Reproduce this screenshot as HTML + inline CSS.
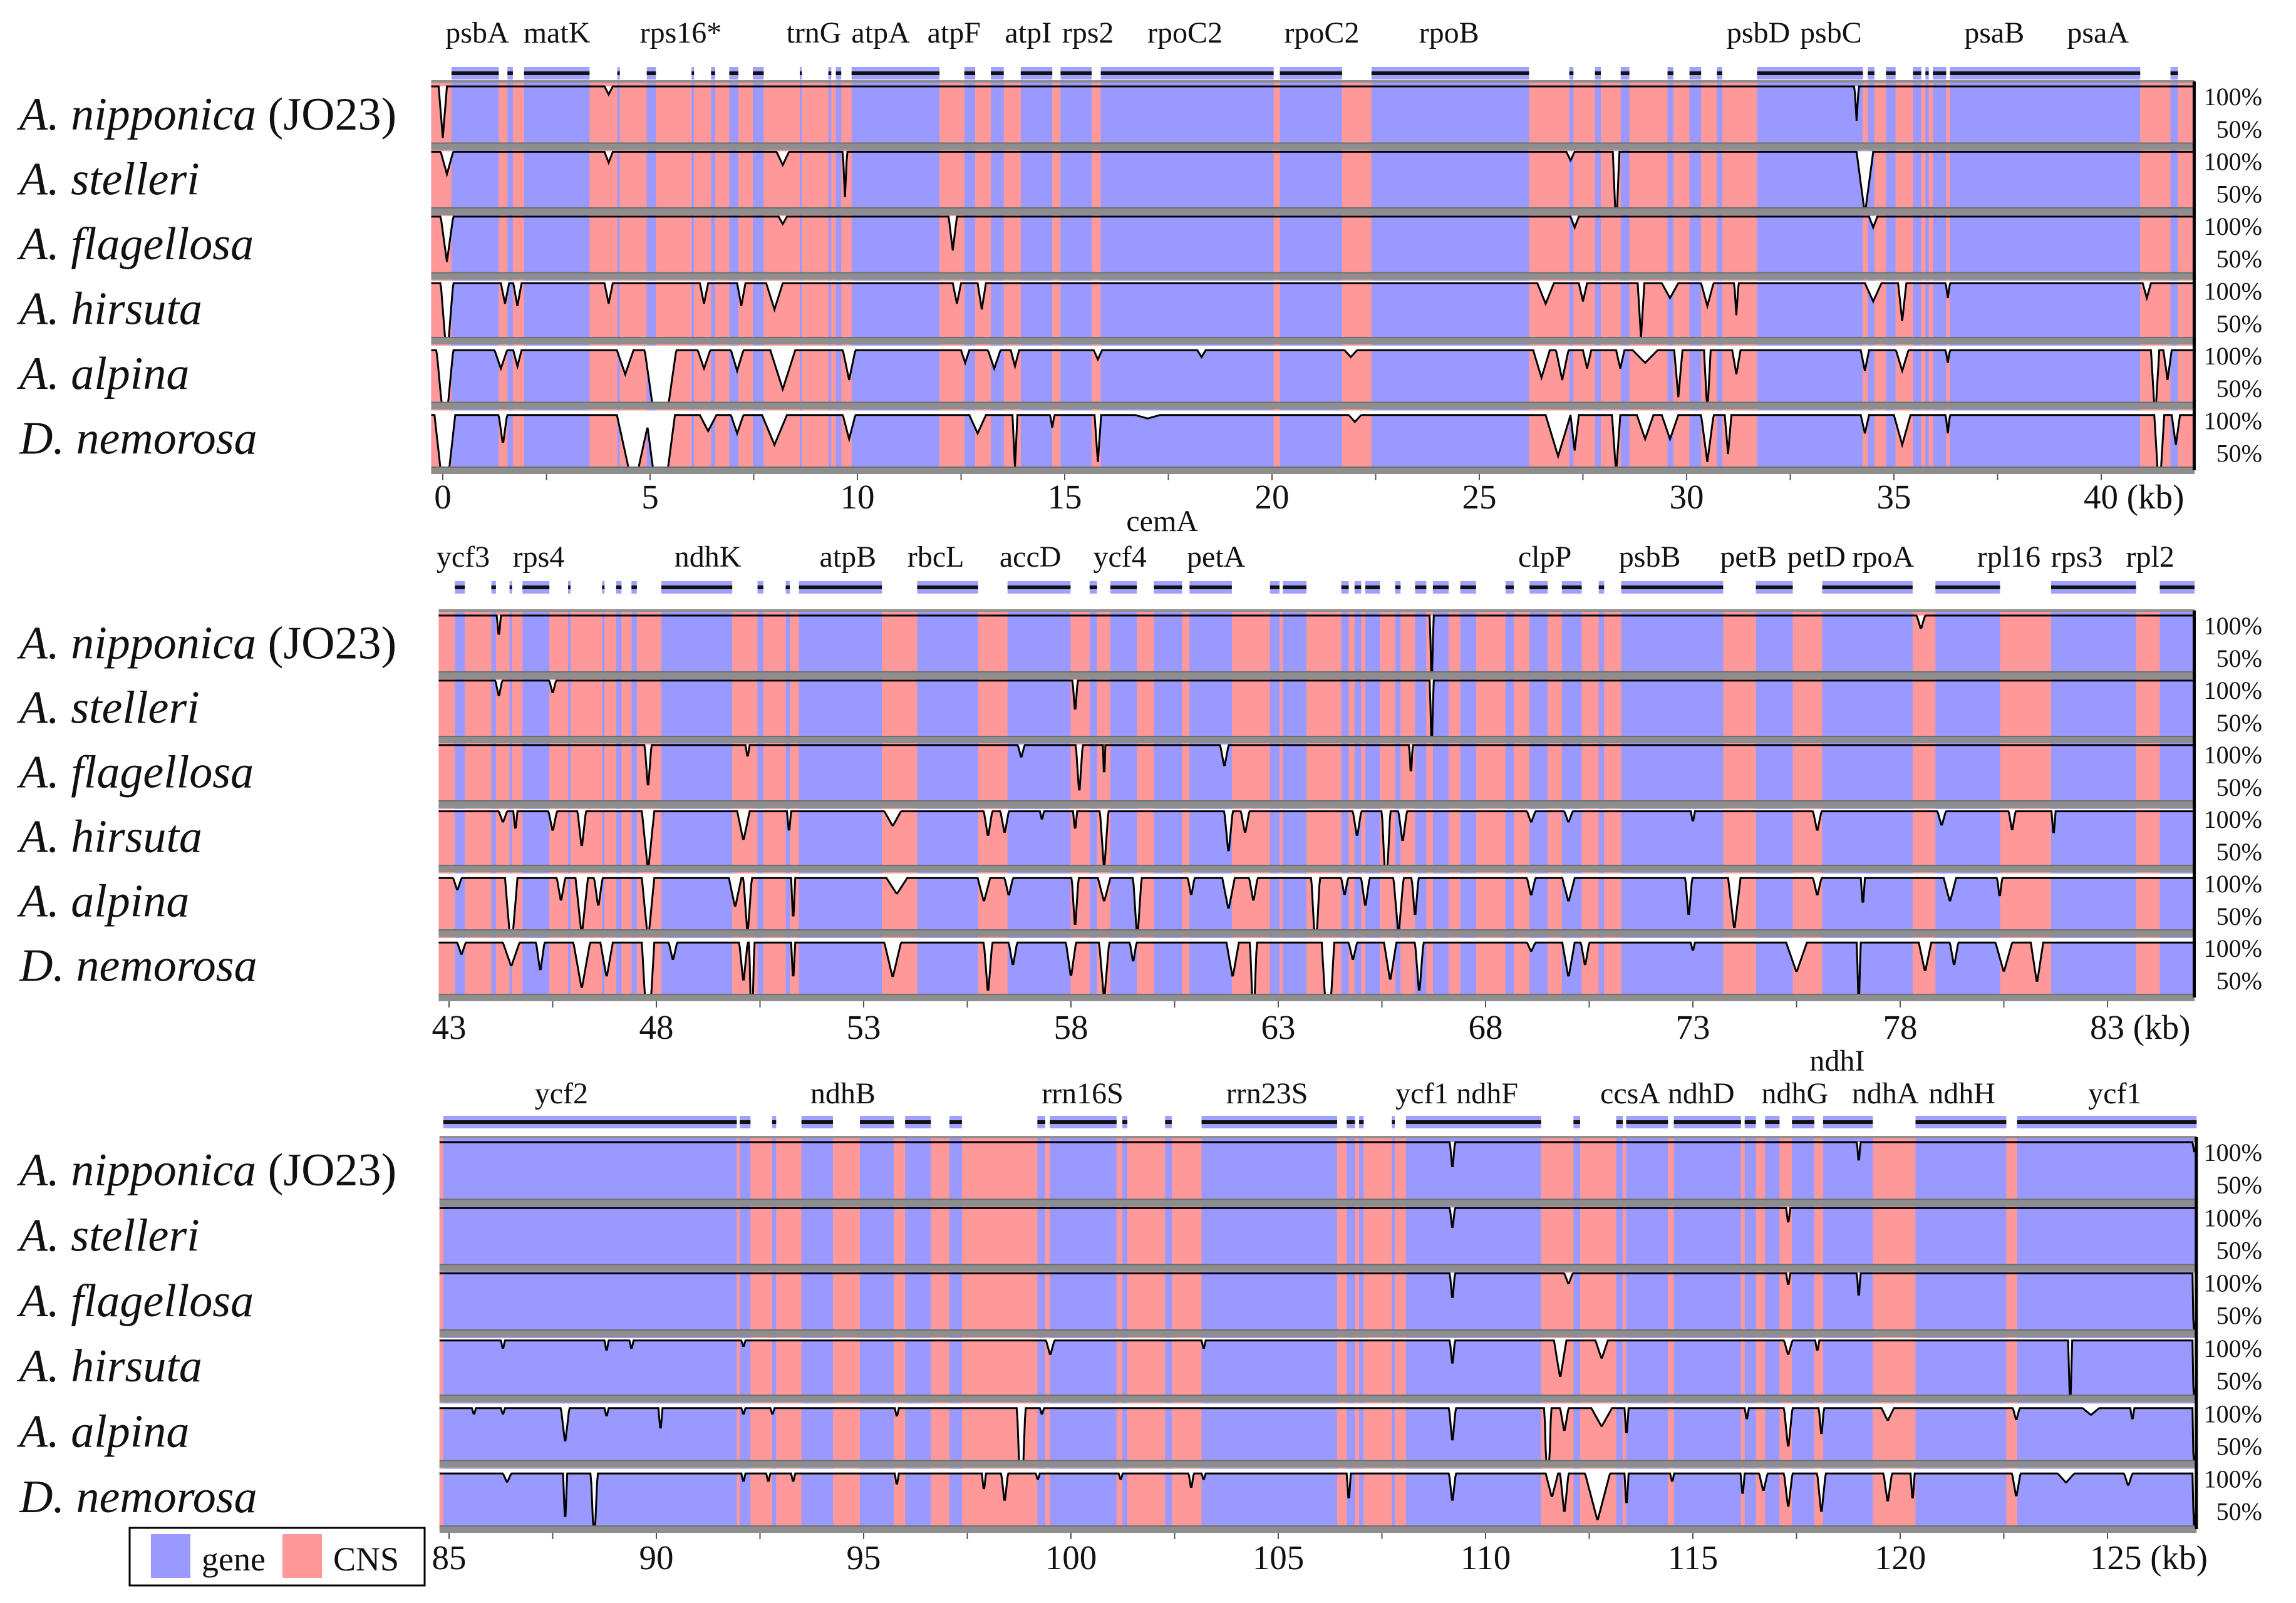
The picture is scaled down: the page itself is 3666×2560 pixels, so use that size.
<!DOCTYPE html>
<html><head><meta charset="utf-8">
<style>
html,body{margin:0;padding:0;background:#fff;}
svg{display:block;}
text{font-family:"Liberation Serif",serif;fill:#111;}
</style></head>
<body>
<svg id="chart" xmlns="http://www.w3.org/2000/svg" width="3666" height="2560" viewBox="0 0 3666 2560">
<g id="legend">
<rect x="207" y="2440" width="471" height="92" fill="#fff" stroke="#000" stroke-width="3"/>
<rect x="241" y="2450" width="63" height="70" fill="#9999ff"/>
<text x="322" y="2508" font-size="54">gene</text>
<rect x="451" y="2450" width="63" height="70" fill="#ff9999"/>
<text x="532" y="2508" font-size="54">CNS</text>
</g>
</svg>
<script>
// ---------- data ----------
const species = ["A. nipponica", "A. stelleri", "A. flagellosa", "A. hirsuta", "A. alpina", "D. nemorosa"];
const baselines = [100, 99.5, 99.5, 98, 96, 96];

const p1Range = [-0.28, 42.25];
const p2Range = [42.75, 85.1];
const p3Range = [84.77, 127.15];

const p1Ticks = [0,5,10,15,20,25,30,35,40];
const p2Ticks = [43,48,53,58,63,68,73,78,83];
const p3Ticks = [85,90,95,100,105,110,115,120,125];

const p1CNS = [[-0.28,0.21],[1.35,1.56],[1.69,1.96],[3.54,4.21],[4.27,4.92],[5.14,6.0],[6.06,6.47],[6.57,6.91],[7.13,7.48],[7.74,8.61],[8.66,9.3],[9.37,9.48],[9.61,9.86],[11.98,12.58],[12.84,13.22],[13.53,13.94],[14.7,14.9],[15.65,15.87],[20.04,20.19],[21.69,22.4],[26.2,27.17],[27.27,27.79],[27.93,28.41],[28.62,29.54],[29.68,30.07],[30.35,30.73],[30.86,31.7],[34.25,34.37],[34.53,34.81],[35.04,35.46],[35.66,35.76],[35.84,35.94],[36.26,36.35],[40.94,41.67],[41.85,42.25]];
const p2CNS = [[42.75,43.14],[43.38,44.02],[44.13,44.46],[44.52,44.77],[45.42,45.87],[45.93,46.69],[46.75,47.03],[47.16,47.4],[47.53,48.12],[49.83,50.44],[50.58,51.12],[51.22,51.44],[53.44,54.29],[55.76,56.47],[57.99,58.45],[58.63,58.95],[59.59,60.0],[60.68,60.86],[61.88,62.8],[63.03,63.11],[63.68,64.52],[64.7,64.84],[65.0,65.1],[65.45,65.82],[65.95,66.3],[66.57,66.73],[67.11,67.39],[67.77,68.48],[68.68,69.06],[69.5,69.84],[70.32,70.73],[70.86,71.27],[73.73,74.52],[75.41,76.12],[78.3,78.85],[80.41,81.64],[83.69,84.26]];
const p3CNS = [[84.77,84.86],[91.94,92.01],[92.27,92.79],[92.89,93.5],[94.26,94.91],[95.73,96.0],[96.62,97.07],[97.37,99.19],[99.38,99.49],[101.1,101.24],[101.36,102.27],[102.43,103.15],[106.42,106.65],[106.85,106.95],[107.06,107.74],[107.81,108.08],[111.34,112.12],[112.28,113.15],[113.31,113.39],[114.4,114.54],[116.16,116.25],[116.52,116.74],[117.09,117.39],[117.93,118.14],[119.34,120.37],[122.56,122.82]];

const p1Genes = [["psbA",0.83],["matK",2.75],["rps16*",5.74],["trnG",8.95],["atpA",10.56],["atpF",12.33],["atpI",14.12],["rps2",15.56],["rpoC2",17.9],["rpoC2",21.2],["rpoB",24.27],["psbD",31.73],["psbC",33.48],["psaB",37.42],["psaA",39.92]];
const p2Genes = [["ycf3",43.34],["rps4",45.16],["ndhK",49.24],["atpB",52.62],["rbcL",54.74],["accD",57.02],["ycf4",59.18],["petA",61.5],["clpP",69.43],["psbB",71.96],["petB",74.34],["petD",75.98],["rpoA",77.59],["rpl16",80.62],["rps3",82.26],["rpl2",84.03]];
const p2Raised = [["cemA",60.2]];
const p3Genes = [["ycf2",87.71],["ndhB",94.5],["rrn16S",100.28],["rrn23S",104.73],["ycf1",108.47],["ndhF",110.04],["ccsA",113.49],["ndhD",115.2],["ndhG",117.46],["ndhA",119.64],["ndhH",121.49],["ycf1",125.18]];
const p3Raised = [["ndhI",118.48]];

// dips: [kb, value %, half-width kb]
const p1Dips = [
 [[0.0,55,0.1],[4.0,93,0.1],[34.1,70,0.05]],
 [[0.1,80,0.15],[4.0,90,0.1],[8.2,88,0.15],[9.7,60,0.05],[27.2,92,0.1],[28.3,30,0.08],[34.3,45,0.2]],
 [[0.1,60,0.15],[8.2,93,0.1],[12.3,70,0.1],[27.3,90,0.1],[34.5,90,0.1]],
 [[0.1,30,0.15],[1.5,80,0.1],[1.8,78,0.1],[4.0,80,0.1],[6.3,80,0.1],[7.2,78,0.1],[8.0,75,0.2],[12.4,80,0.1],[13.0,75,0.1],[26.6,80,0.2],[27.5,82,0.1],[28.9,50,0.08],[29.6,85,0.2],[30.5,78,0.15],[31.2,70,0.05],[34.5,82,0.2],[35.2,65,0.1],[36.3,85,0.05],[41.1,85,0.1]],
 [[0.05,20,0.2],[1.4,80,0.15],[1.8,82,0.1],[4.4,75,0.2],[5.25,0,0.38],[6.3,80,0.15],[7.1,78,0.15],[8.2,62,0.3],[9.8,70,0.15],[12.6,85,0.1],[13.3,80,0.15],[13.8,82,0.1],[15.8,88,0.1],[18.3,90,0.1],[21.9,90,0.15],[26.5,72,0.2],[27.0,70,0.15],[27.6,80,0.1],[28.4,80,0.1],[29.0,85,0.3],[29.8,55,0.1],[30.5,40,0.08],[31.2,75,0.1],[34.3,78,0.1],[35.2,78,0.15],[36.3,85,0.05],[41.3,35,0.1],[41.6,70,0.1]],
 [[0.05,15,0.25],[1.45,70,0.1],[4.6,30,0.4],[5.25,0,0.35],[6.4,82,0.2],[7.1,80,0.15],[8.0,70,0.3],[9.8,75,0.15],[12.9,80,0.2],[13.8,50,0.06],[14.7,85,0.05],[15.8,55,0.08],[17.0,93,0.3],[22.0,90,0.15],[26.9,60,0.3],[27.3,65,0.1],[28.3,45,0.1],[29.0,75,0.2],[29.6,75,0.2],[30.5,55,0.15],[31.0,62,0.08],[34.3,80,0.1],[35.2,70,0.2],[36.3,80,0.05],[41.4,25,0.12],[41.8,70,0.1]]
];
const p2Dips = [
 [[44.2,80,0.05],[66.7,10,0.04],[78.5,88,0.1]],
 [[44.2,85,0.08],[45.5,88,0.08],[58.1,70,0.06],[66.7,10,0.04]],
 [[47.8,60,0.08],[50.2,88,0.05],[56.8,88,0.08],[58.2,55,0.08],[58.8,65,0.03],[61.7,80,0.1],[66.2,70,0.04]],
 [[44.3,88,0.1],[44.6,80,0.05],[45.5,80,0.1],[46.2,65,0.1],[47.8,45,0.15],[50.1,72,0.15],[51.2,78,0.05],[53.7,85,0.2],[56.0,75,0.1],[56.4,78,0.1],[57.3,90,0.05],[58.1,80,0.05],[58.8,45,0.1],[61.8,60,0.1],[62.2,78,0.1],[64.9,75,0.1],[65.6,20,0.1],[66.0,70,0.1],[69.1,88,0.1],[70.0,88,0.1],[73.0,88,0.05],[76.0,80,0.1],[79.0,85,0.1],[80.7,80,0.08],[81.7,75,0.05]],
 [[43.2,85,0.1],[44.5,30,0.15],[45.7,75,0.1],[46.2,45,0.15],[46.6,70,0.1],[47.8,40,0.15],[49.9,70,0.15],[50.2,45,0.1],[51.3,55,0.05],[53.8,82,0.25],[55.9,75,0.15],[56.5,80,0.1],[58.1,50,0.08],[58.8,75,0.15],[59.6,40,0.1],[60.9,80,0.08],[61.8,68,0.15],[62.4,75,0.1],[63.9,25,0.1],[64.6,80,0.08],[65.1,70,0.1],[65.9,45,0.12],[66.3,60,0.08],[69.1,80,0.1],[70.0,75,0.15],[72.9,60,0.08],[74.0,50,0.15],[76.0,80,0.1],[77.1,70,0.05],[79.2,75,0.15],[80.4,78,0.06]],
 [[43.3,85,0.1],[44.5,75,0.2],[45.2,70,0.1],[46.2,55,0.2],[46.8,65,0.15],[47.8,0,0.15],[48.4,80,0.1],[50.1,60,0.1],[50.3,0,0.06],[51.3,60,0.05],[53.7,65,0.2],[56.0,50,0.1],[56.6,75,0.1],[58.0,65,0.12],[58.8,45,0.12],[59.5,78,0.08],[61.9,65,0.15],[62.4,20,0.08],[64.2,0,0.15],[64.8,80,0.1],[65.7,62,0.15],[66.4,50,0.1],[69.1,88,0.1],[70.0,65,0.15],[70.4,75,0.1],[73.0,88,0.05],[75.5,70,0.25],[77.0,15,0.04],[78.6,70,0.15],[79.3,75,0.1],[80.5,70,0.2],[81.3,60,0.15]]
];
const p3Dips = [
 [[109.2,75,0.06],[119.0,80,0.04],[127.1,90,0.05]],
 [[109.2,80,0.06],[117.3,85,0.05]],
 [[109.2,75,0.06],[112.0,90,0.1],[117.3,88,0.05],[119.0,75,0.04],[127.1,0,0.05]],
 [[86.3,90,0.05],[88.8,88,0.05],[89.4,90,0.05],[92.1,92,0.05],[99.5,85,0.1],[103.2,90,0.05],[109.2,75,0.06],[111.8,65,0.15],[112.8,82,0.15],[117.3,85,0.1],[118.0,88,0.05],[124.1,0,0.04],[127.1,0,0.05]],
 [[85.6,90,0.05],[86.3,90,0.05],[87.8,65,0.1],[88.8,88,0.05],[90.1,75,0.05],[92.1,90,0.05],[92.8,90,0.05],[95.8,88,0.05],[98.8,0,0.1],[99.3,90,0.05],[109.2,65,0.08],[111.5,0,0.08],[111.9,75,0.1],[112.8,80,0.25],[113.4,70,0.05],[116.3,85,0.05],[117.3,60,0.1],[118.1,70,0.06],[119.7,85,0.15],[122.8,85,0.08],[124.6,90,0.2],[125.6,85,0.05],[127.1,0,0.05]],
 [[86.4,88,0.1],[87.8,50,0.05],[88.5,30,0.08],[92.1,88,0.05],[92.7,88,0.05],[93.3,88,0.05],[95.8,85,0.05],[97.9,80,0.05],[98.4,70,0.08],[99.2,90,0.05],[101.2,90,0.05],[102.9,82,0.06],[103.2,90,0.05],[106.7,70,0.05],[109.2,70,0.08],[111.6,75,0.15],[111.9,60,0.1],[112.7,55,0.3],[113.4,65,0.05],[114.5,88,0.05],[116.2,75,0.05],[116.7,80,0.1],[117.3,65,0.1],[118.1,60,0.1],[119.7,70,0.1],[120.3,70,0.05],[122.8,75,0.1],[124.0,88,0.2],[125.5,85,0.1],[127.1,20,0.05]]
];

// ---------- layout ----------
const NS = "http://www.w3.org/2000/svg";
const svg = document.getElementById("chart");
const PXKB = 66.2;
const panels = [
 {id:"p1", range:p1Range, ref:0, refX:707, top:130, bottom:751, labelY:52, arrowY:117, axisY:793, ticks:p1Ticks, cns:p1CNS, genes:p1Genes, raised:[], dips:p1Dips, raisedY:0},
 {id:"p2", range:p2Range, ref:43, refX:717, top:975, bottom:1593, labelY:889, arrowY:938, axisY:1640, ticks:p2Ticks, cns:p2CNS, genes:p2Genes, raised:p2Raised, dips:p2Dips, raisedY:832},
 {id:"p3", range:p3Range, ref:85, refX:717, top:1816, bottom:2442, labelY:1746, arrowY:1792, axisY:2487, ticks:p3Ticks, cns:p3CNS, genes:p3Genes, raised:p3Raised, dips:p3Dips, raisedY:1694}
];

function mk(tag, attrs, parent){
  const e = document.createElementNS(NS, tag);
  for (const k in attrs) e.setAttribute(k, attrs[k]);
  (parent||svg).appendChild(e);
  return e;
}
function txt(s, attrs, parent){ const t = mk("text", attrs, parent); t.textContent = s; return t; }

panels.forEach((P, pi) => {
  const xs = kb => P.refX + (kb - P.ref) * PXKB;
  const x0 = xs(P.range[0]), x1 = xs(P.range[1]);
  const rowH = (P.bottom - P.top) / 6;
  const g = mk("g", {});
  
  

  const geneSpans = [];
  let cur = P.range[0];
  P.cns.forEach(c => { if (c[0] > cur) geneSpans.push([cur, c[0]]); cur = Math.max(cur, c[1]); });
  if (cur < P.range[1]) geneSpans.push([cur, P.range[1]]);

  geneSpans.forEach(s => {
    if (s[1] - s[0] < 0.02) return;
    const r = mk("rect", {x:xs(s[0]), y:P.arrowY-10, width:xs(s[1])-xs(s[0]), height:20, fill:"#a0a0ff"}, g);
    
    
    const l = mk("rect", {x:xs(s[0]), y:P.arrowY-3, width:xs(s[1])-xs(s[0]), height:6, fill:"#111"}, g);
    
    
  });

  P.genes.forEach(gn => {
    const t = txt(gn[0], {x:xs(gn[1]), y:P.labelY+16, "font-size":48, "text-anchor":"middle"}, g);
    
    
  });
  P.raised.forEach(gn => {
    const t = txt(gn[0], {x:xs(gn[1]), y:P.raisedY+16, "font-size":48, "text-anchor":"middle"}, g);
    
    
  });

  const bg = mk("rect", {x:x0, y:P.top, width:x1-x0, height:P.bottom-P.top, fill:"#9999ff"}, g);
  
  
  P.cns.forEach(c => {
    const r = mk("rect", {x:xs(c[0]), y:P.top, width:Math.max(2, xs(c[1])-xs(c[0])), height:P.bottom-P.top, fill:"#ff9999"}, g);
    
    
  });

  for (let s = 0; s < 6; s++) {
    const rt = P.top + s*rowH;
    const y100 = rt + 8, y50 = rt + rowH - 4;
    const ys = v => { const vv = Math.max(50, Math.min(100, v)); return y100 + (100 - vv) / 50 * (y50 - y100); };
    const base = baselines[s];
    const dips = P.dips[s];
    const pts = [];
    for (let k = P.range[0]; k <= P.range[1] + 1e-9; k += 0.02) {
      let v = base;
      dips.forEach(d => {
        const dist = Math.abs(k - d[0]);
        if (dist < d[2]) { const dv = d[1] + (base - d[1]) * dist / d[2]; if (dv < v) v = dv; }
      });
      pts.push([xs(k), v < 50 ? y50 + 4 : ys(v)]);
    }
    const line = pts.map(p => p[0].toFixed(1) + "," + p[1].toFixed(1)).join(" ");
    const poly = mk("polygon", {points: x0.toFixed(1)+","+y100+" "+line+" "+x1.toFixed(1)+","+y100, fill:"#fff"}, g);
    
    
    const pl = mk("polyline", {points: line, fill:"none", stroke:"#000", "stroke-width":3}, g);
    
    

    const lab = txt("", {x:31, y:rt + rowH/2 + 25, "font-size":74}, g);
    
    
    const it = mk("tspan", {"font-style":"italic"}, lab); it.textContent = species[s];
    if (s === 0) { const t2 = mk("tspan", {}, lab); t2.textContent = " (JO23)"; }

    const pa = txt("100%", {x:3612, y:rt + 38, "font-size":40, "text-anchor":"end"}, g);
    
    
    const pb = txt("50%", {x:3612, y:rt + 90, "font-size":40, "text-anchor":"end"}, g);
    
    
  }

  const topL = mk("rect", {x:x0, y:P.top-2, width:x1-x0, height:4, fill:"#909090"}, g);
  
  
  for (let s = 1; s <= 6; s++) {
    const y = P.top + s*rowH;
    const sep = mk("rect", {x:x0, y:y-6, width:x1-x0, height:12, fill:"#8e8e8e"}, g);
    
    
    mk("rect", {x:x0, y:y-6, width:x1-x0, height:2, fill:"#6e6e6e"}, g);
  }
  const rl = mk("rect", {x:x1-3, y:P.top, width:5, height:P.bottom-P.top, fill:"#000"}, g);
  
  

  for (let k = P.ticks[0] - 2.5 * Math.floor((P.ticks[0]-P.range[0])/2.5); k <= P.range[1]; k += 2.5) {
    if (k < P.range[0]) continue;
    mk("rect", {x:xs(k)-1, y:P.bottom+6, width:2, height:10, fill:"#555"}, g);
  }
  P.ticks.forEach((t, i) => {
    const last = i === P.ticks.length - 1;
    const tl = txt(last ? t + " (kb)" : String(t), {x: last ? xs(t) - 28 : xs(t), y:P.axisY + 19, "font-size":55, "text-anchor": last ? "start" : "middle"}, g);
    
    
  });
});
svg.appendChild(document.getElementById("legend"));
</script>
</body></html>
